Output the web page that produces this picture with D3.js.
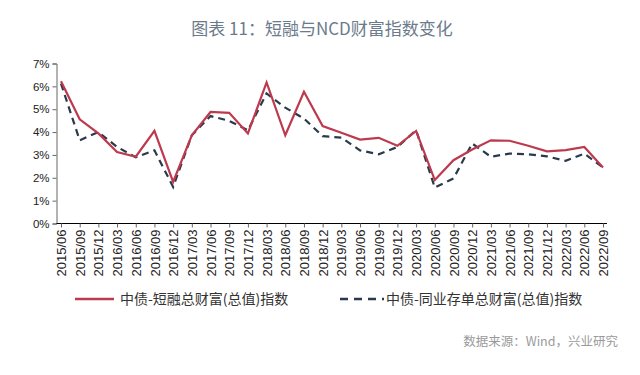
<!DOCTYPE html>
<meta charset="utf-8">
<html>
<head>
<title>短融与NCD财富指数变化</title>
<script src="https://d3js.org/d3.v7.min.js"></script>
<style>
  body { margin: 0; background: #fff; }
  svg { display: block; }
  .tick text { font-family: "Liberation Sans", Arial, sans-serif; fill: #222; }
</style>
</head>
<body>
<div id="chart"></div>
<script>
// categories (quarter ends)
var dates = ["2015/06","2015/09","2015/12","2016/03","2016/06","2016/09","2016/12",
  "2017/03","2017/06","2017/09","2017/12","2018/03","2018/06","2018/09","2018/12",
  "2019/03","2019/06","2019/09","2019/12","2020/03","2020/06","2020/09","2020/12",
  "2021/03","2021/06","2021/09","2021/12","2022/03","2022/06","2022/09"];
// 中债-短融总财富(总值)指数, %
var cpValues = [6.22,4.56,3.94,3.13,2.92,4.05,1.82,3.86,4.88,4.84,3.94,6.17,3.86,5.76,4.26,
  3.97,3.67,3.75,3.40,4.05,1.90,2.77,3.24,3.64,3.62,3.40,3.16,3.21,3.35,2.45];
// 中债-同业存单总财富(总值)指数, %
var ncdValues = [6.12,3.64,4.00,3.35,2.90,3.20,1.60,3.86,4.70,4.49,4.08,5.69,5.07,4.59,3.82,
  3.76,3.20,3.03,3.35,4.08,1.57,1.97,3.50,2.92,3.06,3.03,2.94,2.74,3.06,2.45];
var yTicks = [0,1,2,3,4,5,6,7];
var seriesNames = ["中债-短融总财富(总值)指数", "中债-同业存单总财富(总值)指数"];

var W = 640, H = 375;
var svg = d3.select("#chart").append("svg").attr("width", W).attr("height", H);

var x = d3.scalePoint().domain(dates).range([61, 603]);
var y = d3.scaleLinear().domain([0, 7]).range([223.5, 63.5]);

// title
svg.append("text")
  .attr("x", 322).attr("y", 35)
  .attr("text-anchor", "middle")
  .style("font-family", "'Noto Sans CJK SC', sans-serif")
  .style("font-size", "17px")
  .style("fill", "#6c7b8b")
  .text("图表 11：短融与NCD财富指数变化");

// y axis
var yAxis = svg.append("g")
  .attr("transform", "translate(56.5,0)")
  .call(d3.axisLeft(y).tickValues(yTicks).tickSize(4).tickPadding(3)
    .tickFormat(function(d) { return d + "%"; }));
yAxis.selectAll("path, line").attr("stroke", "#666");
yAxis.selectAll("text").style("font-size", "11.5px");

// x axis
var xAxis = svg.append("g")
  .attr("transform", "translate(0,223.5)")
  .call(d3.axisBottom(x).tickSize(4).tickSizeOuter(0).tickPadding(4));
xAxis.select(".domain").attr("d", "M56.5,0H607");
xAxis.selectAll("line").attr("stroke", "#666");
xAxis.selectAll("text")
  .style("font-size", "13px")
  .attr("transform", "rotate(-90)")
  .attr("text-anchor", "end")
  .attr("x", -6).attr("y", 0).attr("dy", "0.35em");

var line = d3.line()
  .x(function(d, i) { return x(dates[i]); })
  .y(function(d) { return y(d); });

svg.append("path").datum(ncdValues)
  .attr("d", line).attr("fill", "none")
  .attr("stroke", "#2a3a4c").attr("stroke-width", 2.2)
  .attr("stroke-dasharray", "7,5");

svg.append("path").datum(cpValues)
  .attr("d", line).attr("fill", "none")
  .attr("stroke", "#bd3a4e").attr("stroke-width", 2.2);

// legend
var legend = svg.append("g")
  .style("font-family", "'Noto Sans CJK SC', sans-serif")
  .style("font-size", "14px");
legend.append("line").attr("x1", 75).attr("x2", 114).attr("y1", 299).attr("y2", 299)
  .attr("stroke", "#bd3a4e").attr("stroke-width", 2.5);
legend.append("text").attr("x", 120).attr("y", 304).style("fill", "#333").text(seriesNames[0]);
legend.append("line").attr("x1", 340).attr("x2", 384).attr("y1", 299).attr("y2", 299)
  .attr("stroke", "#2a3a4c").attr("stroke-width", 2.5).attr("stroke-dasharray", "8,6");
legend.append("text").attr("x", 386).attr("y", 304).style("fill", "#333").text(seriesNames[1]);

// source
svg.append("text")
  .attr("x", 618).attr("y", 346)
  .attr("text-anchor", "end")
  .style("font-family", "'Noto Sans CJK SC', sans-serif")
  .style("font-size", "12.5px")
  .style("fill", "#9a9a9a")
  .text("数据来源：Wind，兴业研究");
</script>
</body>
</html>
